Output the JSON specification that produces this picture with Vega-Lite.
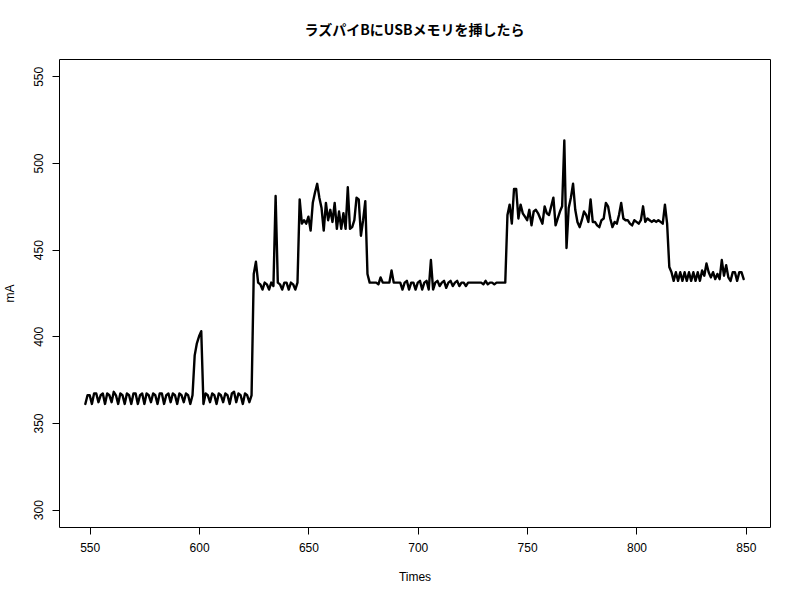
{
  "$schema": "https://vega.github.io/schema/vega-lite/v6.json",
  "width": 711,
  "height": 468,
  "autosize": {"type": "none"},
  "padding": {"left": 59, "top": 59, "right": 30, "bottom": 73},
  "background": "white",
  "config": {
    "view": {"stroke": "black", "strokeWidth": 1},
    "axis": {
      "domain": false, "grid": false, "tickColor": "black", "tickSize": 7, "tickWidth": 1,
      "labelColor": "black", "labelFont": "Liberation Sans", "labelFontSize": 12,
      "titleFont": "Liberation Sans", "titleFontSize": 12, "titleFontWeight": "normal", "titleColor": "black"
    }
  },
  "title": {
    "text": "ラズパイBにUSBメモリを挿したら",
    "font": "Noto Sans CJK JP", "fontSize": 14, "fontWeight": "bold", "color": "black",
    "anchor": "middle", "frame": "group", "offset": 7, "baseline": "bottom"
  },
  "data": {"values": [
    {"t":548,"mA":361},{"t":549,"mA":366},{"t":550,"mA":366},{"t":551,"mA":361},{"t":552,"mA":367},{"t":553,"mA":367},{"t":554,"mA":362},{"t":555,"mA":366},{"t":556,"mA":367},{"t":557,"mA":361},
    {"t":558,"mA":367},{"t":559,"mA":366},{"t":560,"mA":362},{"t":561,"mA":368},{"t":562,"mA":366},{"t":563,"mA":361},{"t":564,"mA":367},{"t":565,"mA":366},{"t":566,"mA":361},{"t":567,"mA":367},
    {"t":568,"mA":366},{"t":569,"mA":361},{"t":570,"mA":367},{"t":571,"mA":367},{"t":572,"mA":361},{"t":573,"mA":366},{"t":574,"mA":367},{"t":575,"mA":361},{"t":576,"mA":367},{"t":577,"mA":366},
    {"t":578,"mA":362},{"t":579,"mA":367},{"t":580,"mA":366},{"t":581,"mA":361},{"t":582,"mA":367},{"t":583,"mA":367},{"t":584,"mA":361},{"t":585,"mA":366},{"t":586,"mA":367},{"t":587,"mA":362},
    {"t":588,"mA":367},{"t":589,"mA":366},{"t":590,"mA":361},{"t":591,"mA":367},{"t":592,"mA":366},{"t":593,"mA":362},{"t":594,"mA":367},{"t":595,"mA":366},{"t":596,"mA":361},{"t":597,"mA":366},
    {"t":598,"mA":389},{"t":599,"mA":396},{"t":600,"mA":400},{"t":601,"mA":403},{"t":602,"mA":361},{"t":603,"mA":367},{"t":604,"mA":366},{"t":605,"mA":362},{"t":606,"mA":367},{"t":607,"mA":366},
    {"t":608,"mA":361},{"t":609,"mA":367},{"t":610,"mA":366},{"t":611,"mA":362},{"t":612,"mA":367},{"t":613,"mA":366},{"t":614,"mA":361},{"t":615,"mA":367},{"t":616,"mA":368},{"t":617,"mA":362},
    {"t":618,"mA":367},{"t":619,"mA":366},{"t":620,"mA":361},{"t":621,"mA":367},{"t":622,"mA":366},{"t":623,"mA":362},{"t":624,"mA":366},{"t":625,"mA":436},{"t":626,"mA":443},{"t":627,"mA":431},
    {"t":628,"mA":430},{"t":629,"mA":427},{"t":630,"mA":431},{"t":631,"mA":430},{"t":632,"mA":427},{"t":633,"mA":431},{"t":634,"mA":429},{"t":635,"mA":481},{"t":636,"mA":431},{"t":637,"mA":430},
    {"t":638,"mA":427},{"t":639,"mA":431},{"t":640,"mA":431},{"t":641,"mA":427},{"t":642,"mA":431},{"t":643,"mA":430},{"t":644,"mA":427},{"t":645,"mA":431},{"t":646,"mA":479},{"t":647,"mA":465},
    {"t":648,"mA":467},{"t":649,"mA":465},{"t":650,"mA":469},{"t":651,"mA":461},{"t":652,"mA":477},{"t":653,"mA":483},{"t":654,"mA":488},{"t":655,"mA":480},{"t":656,"mA":474},{"t":657,"mA":461},
    {"t":658,"mA":477},{"t":659,"mA":467},{"t":660,"mA":473},{"t":661,"mA":466},{"t":662,"mA":477},{"t":663,"mA":462},{"t":664,"mA":472},{"t":665,"mA":462},{"t":666,"mA":471},{"t":667,"mA":462},
    {"t":668,"mA":486},{"t":669,"mA":462},{"t":670,"mA":463},{"t":671,"mA":467},{"t":672,"mA":480},{"t":673,"mA":479},{"t":674,"mA":458},{"t":675,"mA":467},{"t":676,"mA":478},{"t":677,"mA":436},
    {"t":678,"mA":431},{"t":679,"mA":431},{"t":680,"mA":431},{"t":681,"mA":431},{"t":682,"mA":430},{"t":683,"mA":434},{"t":684,"mA":431},{"t":685,"mA":431},{"t":686,"mA":431},{"t":687,"mA":431},
    {"t":688,"mA":438},{"t":689,"mA":431},{"t":690,"mA":431},{"t":691,"mA":431},{"t":692,"mA":431},{"t":693,"mA":427},{"t":694,"mA":431},{"t":695,"mA":432},{"t":696,"mA":427},{"t":697,"mA":431},
    {"t":698,"mA":431},{"t":699,"mA":427},{"t":700,"mA":431},{"t":701,"mA":432},{"t":702,"mA":427},{"t":703,"mA":431},{"t":704,"mA":432},{"t":705,"mA":427},{"t":706,"mA":444},{"t":707,"mA":427},
    {"t":708,"mA":431},{"t":709,"mA":432},{"t":710,"mA":429},{"t":711,"mA":431},{"t":712,"mA":432},{"t":713,"mA":428},{"t":714,"mA":431},{"t":715,"mA":432},{"t":716,"mA":429},{"t":717,"mA":431},
    {"t":718,"mA":432},{"t":719,"mA":429},{"t":720,"mA":431},{"t":721,"mA":431},{"t":722,"mA":429},{"t":723,"mA":431},{"t":724,"mA":431},{"t":725,"mA":431},{"t":726,"mA":431},{"t":727,"mA":431},
    {"t":728,"mA":431},{"t":729,"mA":431},{"t":730,"mA":430},{"t":731,"mA":432},{"t":732,"mA":430},{"t":733,"mA":431},{"t":734,"mA":431},{"t":735,"mA":430},{"t":736,"mA":431},{"t":737,"mA":431},
    {"t":738,"mA":431},{"t":739,"mA":431},{"t":740,"mA":431},{"t":741,"mA":470},{"t":742,"mA":476},{"t":743,"mA":465},{"t":744,"mA":485},{"t":745,"mA":485},{"t":746,"mA":468},{"t":747,"mA":476},
    {"t":748,"mA":471},{"t":749,"mA":469},{"t":750,"mA":467},{"t":751,"mA":473},{"t":752,"mA":464},{"t":753,"mA":472},{"t":754,"mA":473},{"t":755,"mA":471},{"t":756,"mA":468},{"t":757,"mA":465},
    {"t":758,"mA":475},{"t":759,"mA":471},{"t":760,"mA":470},{"t":761,"mA":475},{"t":762,"mA":480},{"t":763,"mA":464},{"t":764,"mA":468},{"t":765,"mA":472},{"t":766,"mA":475},{"t":767,"mA":513},
    {"t":768,"mA":451},{"t":769,"mA":474},{"t":770,"mA":480},{"t":771,"mA":488},{"t":772,"mA":473},{"t":773,"mA":466},{"t":774,"mA":463},{"t":775,"mA":467},{"t":776,"mA":472},{"t":777,"mA":470},
    {"t":778,"mA":466},{"t":779,"mA":479},{"t":780,"mA":466},{"t":781,"mA":466},{"t":782,"mA":464},{"t":783,"mA":463},{"t":784,"mA":467},{"t":785,"mA":468},{"t":786,"mA":477},{"t":787,"mA":475},
    {"t":788,"mA":468},{"t":789,"mA":463},{"t":790,"mA":466},{"t":791,"mA":465},{"t":792,"mA":470},{"t":793,"mA":477},{"t":794,"mA":468},{"t":795,"mA":467},{"t":796,"mA":467},{"t":797,"mA":465},
    {"t":798,"mA":464},{"t":799,"mA":467},{"t":800,"mA":466},{"t":801,"mA":465},{"t":802,"mA":467},{"t":803,"mA":475},{"t":804,"mA":466},{"t":805,"mA":468},{"t":806,"mA":467},{"t":807,"mA":466},
    {"t":808,"mA":467},{"t":809,"mA":466},{"t":810,"mA":467},{"t":811,"mA":466},{"t":812,"mA":465},{"t":813,"mA":476},{"t":814,"mA":465},{"t":815,"mA":440},{"t":816,"mA":437},{"t":817,"mA":432},
    {"t":818,"mA":437},{"t":819,"mA":432},{"t":820,"mA":437},{"t":821,"mA":432},{"t":822,"mA":437},{"t":823,"mA":432},{"t":824,"mA":437},{"t":825,"mA":432},{"t":826,"mA":437},{"t":827,"mA":432},
    {"t":828,"mA":437},{"t":829,"mA":432},{"t":830,"mA":438},{"t":831,"mA":435},{"t":832,"mA":442},{"t":833,"mA":437},{"t":834,"mA":434},{"t":835,"mA":437},{"t":836,"mA":433},{"t":837,"mA":436},
    {"t":838,"mA":433},{"t":839,"mA":444},{"t":840,"mA":435},{"t":841,"mA":441},{"t":842,"mA":434},{"t":843,"mA":432},{"t":844,"mA":437},{"t":845,"mA":437},{"t":846,"mA":432},{"t":847,"mA":437},
    {"t":848,"mA":437},{"t":849,"mA":433}
  ]},
  "mark": {"type": "line", "color": "black", "strokeWidth": 2.4, "strokeJoin": "round", "strokeCap": "round"},
  "encoding": {
    "x": {
      "field": "t", "type": "quantitative", "title": "Times",
      "scale": {"domain": [535.96, 861.04], "nice": false, "zero": false},
      "axis": {"values": [550, 600, 650, 700, 750, 800, 850], "labelPadding": 8, "titlePadding": 18, "labelFlush": false}
    },
    "y": {
      "field": "mA", "type": "quantitative", "title": "mA",
      "scale": {"domain": [290, 560], "nice": false, "zero": false},
      "axis": {"values": [300, 350, 400, 450, 500, 550], "labelAngle": 270, "labelAlign": "center", "labelBaseline": "bottom", "labelPadding": 7, "titlePadding": 16, "labelFlush": false}
    }
  }
}
